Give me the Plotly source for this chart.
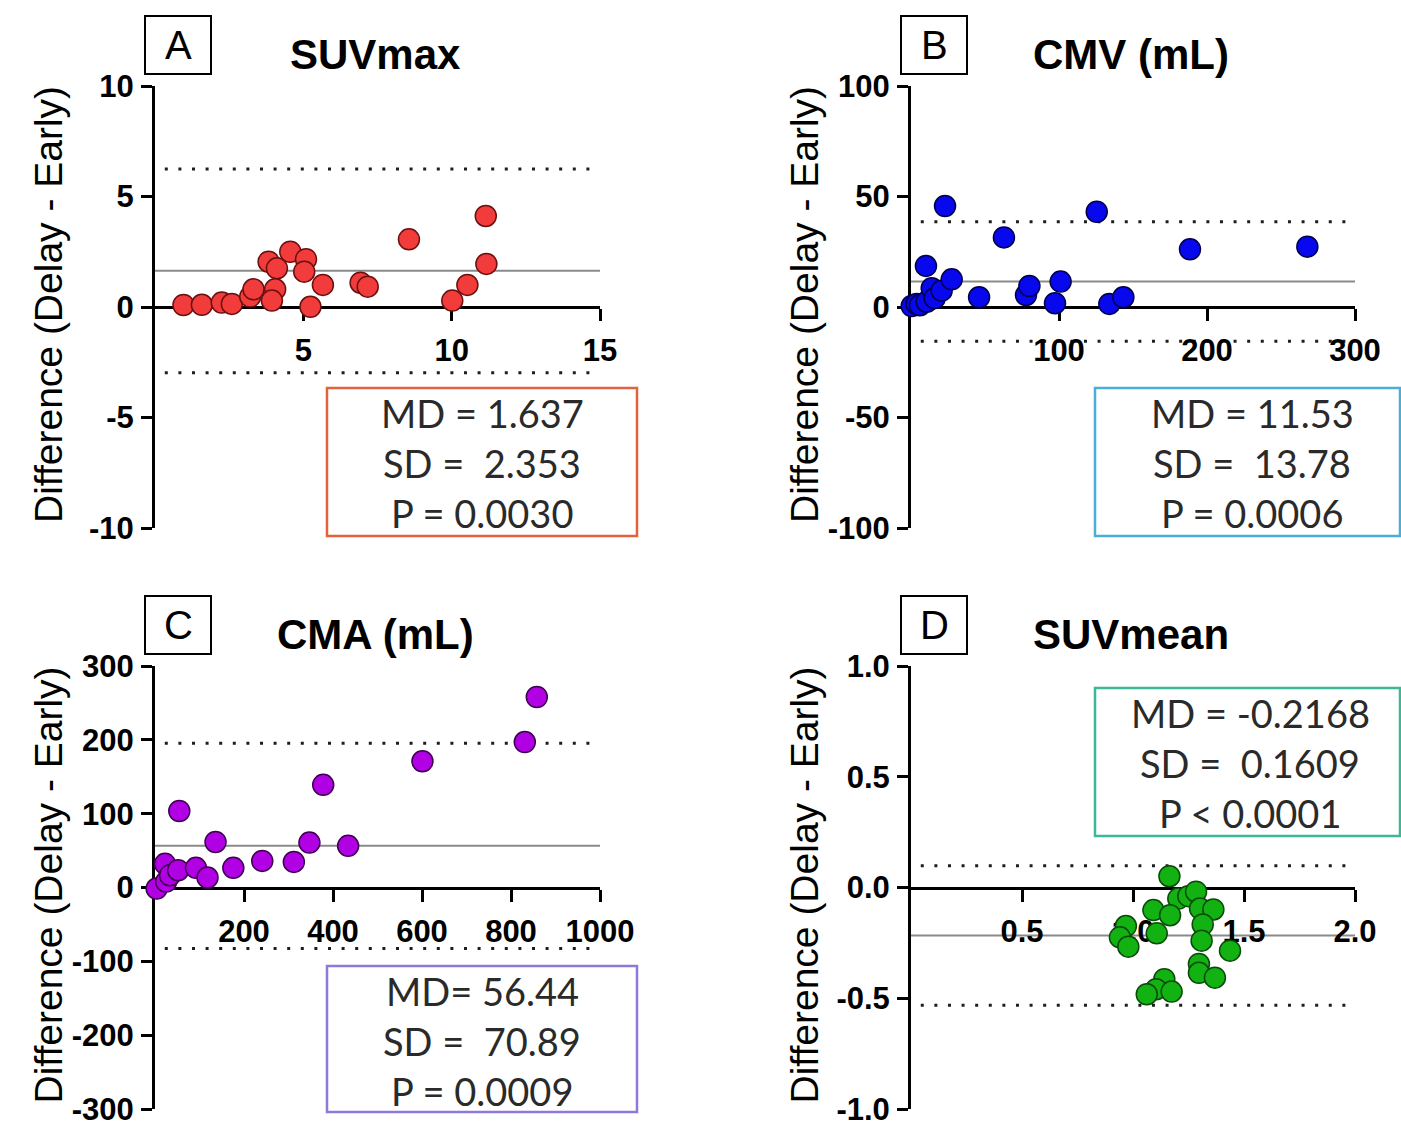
import plotly.graph_objects as go

W, H = 1401, 1131

# ---------------- data ----------------
A_x = [0.96, 1.58, 2.25, 2.59, 3.21, 3.32, 3.83, 4.11, 4.05, 3.94, 4.56, 5.09, 5.03, 5.24, 5.66, 6.93, 7.17, 8.56, 10.02, 10.53, 11.15, 11.17]
A_y = [0.09, 0.10, 0.20, 0.14, 0.47, 0.80, 2.05, 1.75, 0.80, 0.29, 2.50, 2.16, 1.60, 0.01, 1.00, 1.10, 0.92, 3.06, 0.29, 1.00, 4.12, 1.95]

B_x = [0.5, 3.8, 6.0, 10.6, 14.0, 16.0, 20.7, 10.1, 27.5, 23.0, 46.0, 62.8, 77.7, 80.0, 97.3, 101.1, 125.5, 134.0, 143.5, 188.5, 267.8]
B_y = [0.45, 1.4, 0.8, 2.4, 8.5, 4.0, 7.4, 18.6, 12.5, 45.7, 4.4, 31.5, 5.4, 9.5, 1.7, 11.5, 43.1, 1.4, 4.4, 26.1, 27.3]

C_x = [3.7, 22.5, 25.0, 33.7, 52.0, 54.6, 92.0, 118.0, 136.0, 176.0, 241.0, 312.0, 347.0, 378.0, 434.0, 601.0, 831.0, 858.0]
C_y = [-1.4, 32.0, 8.0, 16.6, 23.4, 103.6, 26.6, 13.5, 61.7, 26.6, 36.0, 34.7, 60.8, 139.0, 56.4, 171.0, 197.0, 258.0]

D_x = [1.164, 1.204, 1.249, 1.284, 1.302, 1.362, 1.092, 1.167, 1.314, 0.968, 1.107, 0.941, 1.309, 0.979, 1.437, 1.297, 1.297, 1.369, 1.141, 1.104, 1.062, 1.174]
D_y = [0.051, -0.050, -0.039, -0.019, -0.095, -0.099, -0.102, -0.125, -0.167, -0.174, -0.207, -0.225, -0.240, -0.267, -0.285, -0.345, -0.385, -0.407, -0.414, -0.459, -0.482, -0.470]

letters = ["A", "B", "C", "D"]
titles = ["SUVmax", "CMV (mL)", "CMA (mL)", "SUVmean"]
md_vals = [1.637, 11.53, 56.44, -0.2168]
sd_vals = [2.353, 13.78, 70.89, 0.1609]
stat_lines = [
    ["MD = 1.637", "SD =  2.353", "P = 0.0030"],
    ["MD = 11.53", "SD =  13.78", "P = 0.0006"],
    ["MD= 56.44", "SD =  70.89", "P = 0.0009"],
    ["MD = -0.2168", "SD =  0.1609", "P < 0.0001"],
]
x_ranges = [[0, 15], [0, 300], [0, 1000], [0, 2]]
y_ranges = [[-10, 10], [-100, 100], [-300, 300], [-1, 1]]
x_ticks = [[5, 10, 15], [100, 200, 300], [200, 400, 600, 800, 1000], [0.5, 1.0, 1.5, 2.0]]
x_ticktext = [["5", "10", "15"], ["100", "200", "300"], ["200", "400", "600", "800", "1000"], ["0.5", "1.0", "1.5", "2.0"]]
y_ticks = [[-10, -5, 0, 5, 10], [-100, -50, 0, 50, 100], [-300, -200, -100, 0, 100, 200, 300], [-1, -0.5, 0, 0.5, 1]]
y_ticktext = [["-10", "-5", "0", "5", "10"], ["-100", "-50", "0", "50", "100"],
              ["-300", "-200", "-100", "0", "100", "200", "300"], ["-1.0", "-0.5", "0.0", "0.5", "1.0"]]
y_title = "Difference (Delay - Early)"

xs = [A_x, B_x, C_x, D_x]
ys = [A_y, B_y, C_y, D_y]
fills = ["#F23C3C", "#0808EE", "#B200E4", "#12B212"]
edges = ["#6A1010", "#00004A", "#3E0050", "#0A4A0A"]
box_colors = ["#E2623E", "#4AAED8", "#8E78DC", "#3DB896"]

# ---------------- layout geometry (pixels) ----------------
def PX(x):
    return x / W

def PY(y):
    return 1 - y / H

col_px = [(155, 600), (911, 1355)]
row_px = [(86, 528), (666, 1109)]
panel_pos = [(0, 0), (0, 1), (1, 0), (1, 1)]  # (row, col)

tick_font = dict(family="Liberation Sans, Arial, sans-serif", size=31, color="black", weight="bold")
stat_font = dict(family="Lato, Open Sans, sans-serif", size=38, color="#2a2a2a")

fig = go.Figure()
layout = dict(
    width=W, height=H, autosize=False,
    margin=dict(l=0, r=0, t=0, b=0, pad=0, autoexpand=False),
    paper_bgcolor="white", plot_bgcolor="white",
    showlegend=False,
)
shapes = []
annotations = []

for i in range(4):
    r, c = panel_pos[i]
    x0p, x1p = col_px[c]
    y0p, y1p = row_px[r]
    xd = [PX(x0p), PX(x1p)]
    yd = [PY(y1p), PY(y0p)]
    sfx = "" if i == 0 else str(i + 1)
    xa, ya = "x" + sfx, "y" + sfx
    yr = y_ranges[i]
    zero_pos = yd[0] + (0 - yr[0]) / (yr[1] - yr[0]) * (yd[1] - yd[0])

    layout["xaxis" + sfx] = dict(
        domain=xd, range=x_ranges[i], anchor="free", position=zero_pos, automargin=False,
        showgrid=False, zeroline=False, showline=True, linecolor="black", linewidth=3,
        ticks="outside", ticklen=12, tickwidth=3, tickcolor="black",
        tickvals=x_ticks[i], ticktext=x_ticktext[i], tickfont=tick_font,
        ticklabelstandoff=3, ticklabeloverflow="allow", layer="below traces", fixedrange=True,
    )
    layout["yaxis" + sfx] = dict(
        domain=yd, range=yr, anchor=xa, automargin=False,
        showgrid=False, zeroline=False, showline=True, linecolor="black", linewidth=3,
        ticks="outside", ticklen=11, tickwidth=3, tickcolor="black",
        tickvals=y_ticks[i], ticktext=y_ticktext[i], tickfont=tick_font,
        ticklabelstandoff=1, ticklabeloverflow="allow", layer="below traces", fixedrange=True,
    )

    md, sd = md_vals[i], sd_vals[i]
    xr = x_ranges[i]
    span = xr[1] - xr[0]
    shapes.append(dict(type="line", xref=xa, yref=ya, x0=xr[0], x1=xr[1], y0=md, y1=md,
                       line=dict(color="#8a8a8a", width=2), layer="below"))
    for lim in (md + 1.96 * sd, md - 1.96 * sd):
        shapes.append(dict(type="line", xref=xa, yref=ya, x0=xr[0] + 0.022 * span, x1=xr[0] + 0.985 * span,
                           y0=lim, y1=lim, line=dict(color="#1e1e1e", width=3, dash="3px,10.6px"), layer="below"))

    fig.add_trace(go.Scatter(
        x=xs[i], y=ys[i], mode="markers", xaxis=xa, yaxis=ya, cliponaxis=False,
        marker=dict(size=21, color=fills[i], line=dict(color=edges[i], width=1.5)),
        hoverinfo="x+y",
    ))

    lx0, lx1 = x0p - 10, x0p + 56
    ly0, ly1 = y0p - 70, y0p - 12
    shapes.append(dict(type="rect", xref="paper", yref="paper", x0=PX(lx0), x1=PX(lx1),
                       y0=PY(ly1), y1=PY(ly0), line=dict(color="black", width=2), fillcolor="white"))
    annotations.append(dict(xref="paper", yref="paper", x=PX((lx0 + lx1) / 2), y=PY((ly0 + ly1) / 2),
                            text=letters[i], showarrow=False, xanchor="center", yanchor="middle",
                            font=dict(family="Liberation Sans, Arial, sans-serif", size=40, color="black")))
    annotations.append(dict(xref="paper", yref="paper", x=PX(x0p + 220), y=PY(y0p - 31),
                            text="<b>" + titles[i] + "</b>", showarrow=False, xanchor="center", yanchor="middle",
                            font=dict(family="Liberation Sans, Arial, sans-serif", size=42, color="black")))
    annotations.append(dict(xref="paper", yref="paper", x=PX(x0p - 107), y=PY((y0p + y1p) / 2 - 2),
                            text=y_title, showarrow=False, textangle=-90, xanchor="center", yanchor="middle",
                            font=dict(family="Liberation Sans, Arial, sans-serif", size=39, color="black")))

stat_boxes = [(327, 637, 388, 536), (1095, 1400, 388, 536), (327, 637, 966, 1112), (1095, 1400, 688, 836)]
stat_centers = [482, 1252, 482, 1250]
for i in range(4):
    bx0, bx1, by0, by1 = stat_boxes[i]
    shapes.append(dict(type="rect", xref="paper", yref="paper", x0=PX(bx0), x1=PX(bx1),
                       y0=PY(by1), y1=PY(by0), line=dict(color=box_colors[i], width=2.5),
                       fillcolor="rgba(0,0,0,0)"))
    for k, line in enumerate(stat_lines[i]):
        annotations.append(dict(xref="paper", yref="paper", x=PX(stat_centers[i]), y=PY(by0 + 25 + 50 * k),
                                text=line, showarrow=False, xanchor="center", yanchor="middle",
                                font=stat_font))

layout["shapes"] = shapes
layout["annotations"] = annotations
fig.update_layout(**layout)
fig.write_html("out.html",
               config=dict(displayModeBar=False, responsive=False),
               post_script="document.body.style.margin='0';document.body.style.overflow='hidden';")
